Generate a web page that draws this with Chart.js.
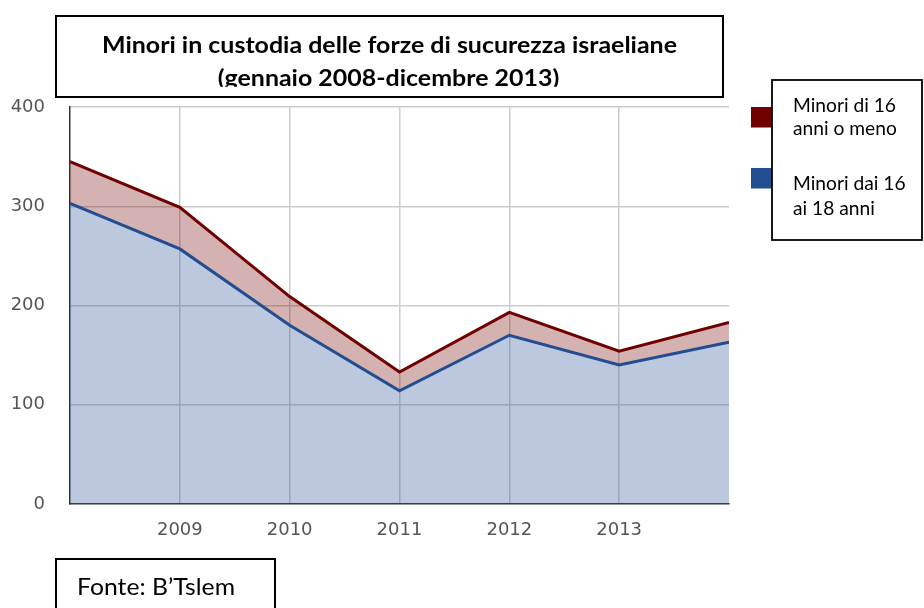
<!DOCTYPE html>
<html>
<head>
<meta charset="utf-8">
<script src="https://cdn.jsdelivr.net/npm/chart.js@4.4.0/dist/chart.umd.min.js"></script>
<style>
  html, body { margin: 0; padding: 0; background: #fff; }
  #wrap { width: 924px; height: 608px; position: relative; }
</style>
</head>
<body>
<div id="wrap"><canvas id="c" width="924" height="608"></canvas></div>
<script>
// ---- data ----
const years = [2008, 2009, 2010, 2011, 2012, 2013, 2014];
const xTickLabels = ['2009', '2010', '2011', '2012', '2013'];
const yTicks = [0, 100, 200, 300, 400];
// bottom series: minors aged 16-18
const minori16a18 = [303, 257, 180, 114, 170, 140, 163];
// stacked on top: minors aged 16 or less
const minoriSotto16 = [42, 42, 29, 19, 23, 14, 20];
const seriesNames = ['Minori dai 16 ai 18 anni', 'Minori di 16 anni o meno'];
const legendLines = [['Minori di 16', 'anni o meno'], ['Minori dai 16', 'ai 18 anni']];
const titleLines = ['Minori in custodia delle forze di sucurezza israeliane', '(gennaio 2008-dicembre 2013)'];
const sourceText = 'Fonte: B\u2019Tslem';

const BLUE = '#224d91';
const RED = '#700000';

function pts(arr) { return arr.map((v, i) => ({ x: years[i], y: v })); }

function fitText(ctx, text, x, baseline, size, weight, sx, align) {
  ctx.save();
  ctx.font = weight + ' ' + size + 'px Lato';
  ctx.textBaseline = 'alphabetic';
  ctx.textAlign = 'left';
  const w = ctx.measureText(text).width * sx;
  let x0 = x;
  if (align === 'center') x0 = x - w / 2;
  ctx.translate(x0, baseline);
  ctx.scale(sx, 1);
  ctx.fillStyle = '#000';
  ctx.fillText(text, 0, 0);
  ctx.restore();
}
function scaleFor(ctx, text, size, weight, targetW) {
  ctx.save();
  ctx.font = weight + ' ' + size + 'px Lato';
  const w = ctx.measureText(text).width;
  ctx.restore();
  return targetW / w;
}

const decor = {
  id: 'decor',
  beforeDraw(chart) {
    const ctx = chart.ctx;
    ctx.save();
    ctx.fillStyle = '#fff';
    ctx.fillRect(0, 0, chart.width, chart.height);
    ctx.restore();
  },
  afterDraw(chart) {
    const ctx = chart.ctx;
    // Title box
    ctx.save();
    ctx.fillStyle = '#fff';
    ctx.fillRect(56, 16, 667, 81);
    ctx.lineWidth = 2;
    ctx.strokeStyle = '#000';
    ctx.strokeRect(56, 16, 667, 81);
    const ts = 23.6;
    const tsx = scaleFor(ctx, titleLines[0], ts, 'bold', 575);
    fitText(ctx, titleLines[0], 389.5, 53.3, ts, 'bold', tsx, 'center');
    ctx.save();
    ctx.beginPath();
    ctx.rect(57, 17, 665, 86.7 - 17);
    ctx.clip();
    fitText(ctx, titleLines[1], 388.5, 86, ts, 'bold', tsx, 'center');
    ctx.restore();
    ctx.restore();

    // Legend
    const colors = [RED, BLUE];
    const sqY = [107, 168];
    ctx.save();
    colors.forEach((c, i) => {
      ctx.fillStyle = c;
      ctx.fillRect(751, sqY[i], 30, 20.5);
    });
    ctx.fillStyle = '#fff';
    ctx.fillRect(772, 80, 150, 160);
    ctx.lineWidth = 1.8;
    ctx.strokeStyle = '#000';
    ctx.strokeRect(772, 80, 150, 160);
    const ls = 18.7;
    const lsx = scaleFor(ctx, legendLines[0][0], ls, 'normal', 103);
    const baselines = [[111.7, 135], [190, 215]];
    legendLines.forEach((lines, i) => {
      lines.forEach((t, j) => fitText(ctx, t, 793, baselines[i][j], ls, 'normal', lsx, 'left'));
    });
    ctx.restore();

    // Source box
    ctx.save();
    ctx.fillStyle = '#fff';
    ctx.fillRect(56, 559, 219, 60);
    ctx.lineWidth = 2;
    ctx.strokeStyle = '#000';
    ctx.strokeRect(56, 559, 219, 60);
    const fs = 23.6;
    const fsx = scaleFor(ctx, sourceText, fs, 'normal', 158);
    fitText(ctx, sourceText, 77, 595, fs, 'normal', fsx, 'left');
    ctx.restore();
  }
};

new Chart(document.getElementById('c'), {
  type: 'line',
  data: {
    datasets: [
      {
        label: seriesNames[0],
        data: pts(minori16a18),
        borderColor: BLUE,
        backgroundColor: 'rgba(34,77,145,0.31)',
        borderWidth: 3,
        pointRadius: 0,
        tension: 0,
        fill: 'origin'
      },
      {
        label: seriesNames[1],
        data: pts(minoriSotto16),
        borderColor: RED,
        backgroundColor: 'rgba(112,0,0,0.3)',
        borderWidth: 3,
        pointRadius: 0,
        tension: 0,
        fill: '-1'
      }
    ]
  },
  options: {
    responsive: false,
    animation: false,
    events: [],
    layout: { padding: { top: 107, right: 195, left: 0, bottom: 0 } },
    plugins: {
      legend: { display: false },
      title: { display: false },
      tooltip: { enabled: false }
    },
    scales: {
      x: {
        type: 'linear',
        min: years[0],
        max: years[years.length - 1],
        afterFit(s) { s.height = 104; },
        afterBuildTicks(s) { s.ticks = years.map(v => ({ value: v })); },
        ticks: {
          stepSize: 1,
          padding: 16,
          color: '#555',
          font: { family: 'DejaVu Sans', size: 18 },
          maxRotation: 0,
          autoSkip: false,
          callback: (v) => xTickLabels.includes(String(v)) ? String(v) : ''
        },
        grid: {
          drawTicks: false,
          color: (c) => (c.tick && xTickLabels.includes(String(c.tick.value))) ? '#cccccc' : 'rgba(0,0,0,0)',
          lineWidth: 1.5
        },
        border: { display: true, color: '#333', width: 1.5 }
      },
      y: {
        stacked: true,
        min: yTicks[0],
        max: yTicks[yTicks.length - 1],
        afterFit(s) { s.width = 70; },
        afterBuildTicks(s) { s.ticks = yTicks.map(v => ({ value: v })); },
        ticks: {
          padding: 25,
          color: '#555',
          font: { family: 'DejaVu Sans', size: 18 },
          callback: (v) => String(v)
        },
        grid: {
          drawTicks: false,
          color: (c) => (c.tick && c.tick.value === 0) ? 'rgba(0,0,0,0)' : '#cccccc',
          lineWidth: 1.5
        },
        border: { display: true, color: '#333', width: 1.5 }
      }
    }
  },
  plugins: [decor]
});
</script>
</body>
</html>
